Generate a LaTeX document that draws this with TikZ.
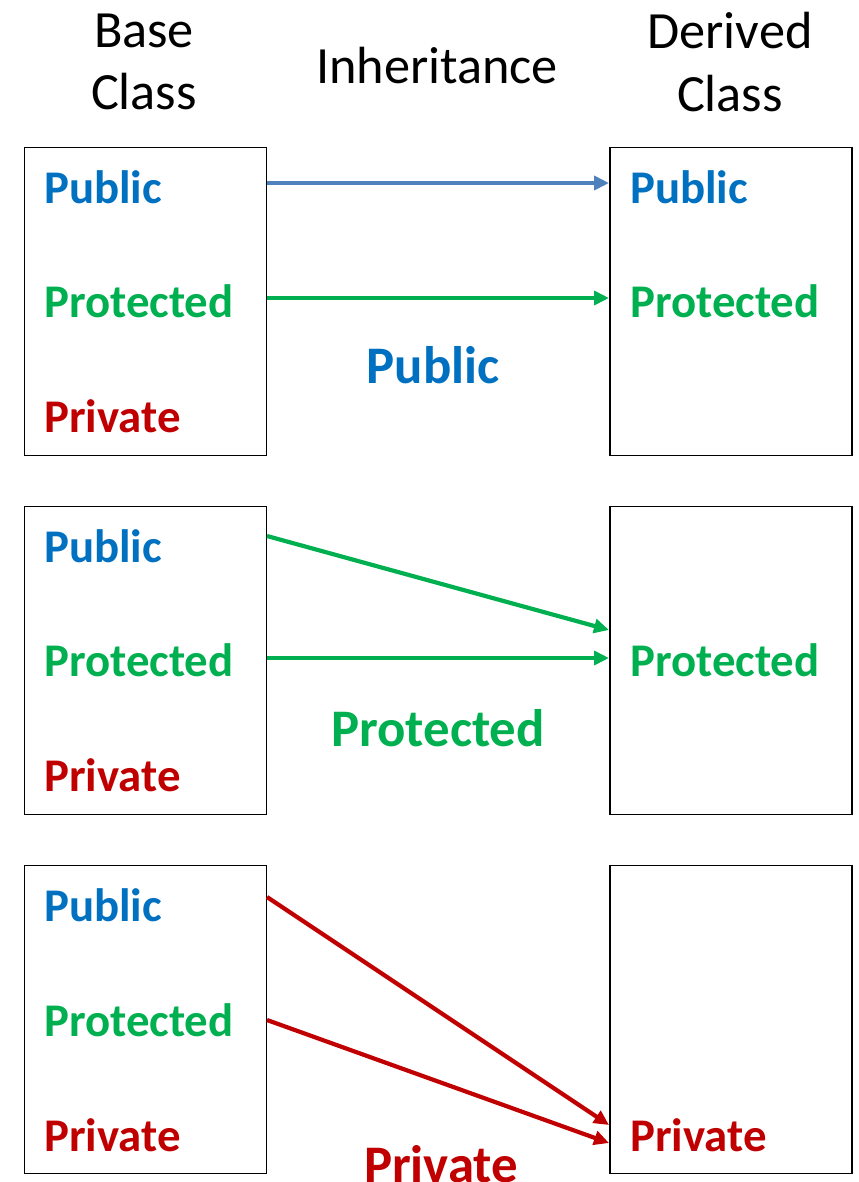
\documentclass[tikz,border=0pt]{standalone}
\usepackage{fontspec}
\setmainfont{Carlito}
\usepackage{xcolor}
\usetikzlibrary{arrows.meta, positioning, calc}
\definecolor{pubblue}{HTML}{0070C0}
\definecolor{probgreen}{HTML}{00B050}
\definecolor{privred}{HTML}{C00000}
\definecolor{arrblue}{HTML}{4F81BD}
\begin{document}
\begin{tikzpicture}[x=1bp,y=-1bp,
  cls/.style={draw, line width=1.5bp, minimum width=242bp, minimum height=308bp, inner sep=0pt},
  lbl/.style={anchor=west, inner sep=0pt, font=\fontsize{47}{56}\selectfont\bfseries},
  mode/.style={inner sep=0pt, font=\fontsize{53}{63}\selectfont\bfseries},
  head/.style={align=center, inner sep=0pt, font=\fontsize{52.5}{63}\selectfont},
  inh/.style={line width=4.2bp, -{Triangle[length=15bp,width=14bp]}}]
\useasboundingbox (0,0) rectangle (859,1182);

% Headings
\node[head] (hbase) at (144,62) {Base\\Class};
\node[head] (hinh) at (437,66) {Inheritance};
\node[head] (hder) at (730,62) {Derived\\Class};

% Public inheritance
\node[cls] (lb1) at (145.5,301.5) {};
\node[cls] (rb1) at (731,301.5) {};
\node[lbl, pubblue] (lpub1) at (44,187) {Public};
\node[lbl, probgreen] (lpro1) at (44,301) {Protected};
\node[lbl, privred] (lpri1) at (44,416) {Private};
\node[lbl, pubblue] (rpub1) at (630,187) {Public};
\node[lbl, probgreen] (rpro1) at (630,301) {Protected};
\node[mode, pubblue] (m1) at (433,365) {Public};
\coordinate (s1a) at (267,183);
\coordinate (e1a) at (609,183);
\coordinate (s1b) at (267,298);
\coordinate (e1b) at (609,298);
\draw[inh, arrblue] (s1a) -- (e1a);
\draw[inh, probgreen] (s1b) -- (e1b);

% Protected inheritance
\node[cls] (lb2) at (145.5,660.5) {};
\node[cls] (rb2) at (731,660.5) {};
\node[lbl, pubblue] (lpub2) at (44,546) {Public};
\node[lbl, probgreen] (lpro2) at (44,660) {Protected};
\node[lbl, privred] (lpri2) at (44,775) {Private};
\node[lbl, probgreen] (rpro2) at (630,660) {Protected};
\node[mode, probgreen] (m2) at (438,728) {Protected};
\coordinate (s2a) at (267,536);
\coordinate (e2a) at (609,630);
\coordinate (s2b) at (267,658);
\coordinate (e2b) at (609,658);
\draw[inh, probgreen] (s2a) -- (e2a);
\draw[inh, probgreen] (s2b) -- (e2b);

% Private inheritance
\node[cls] (lb3) at (145.5,1019.5) {};
\node[cls] (rb3) at (731,1019.5) {};
\node[lbl, pubblue] (lpub3) at (44,905) {Public};
\node[lbl, probgreen] (lpro3) at (44,1020) {Protected};
\node[lbl, privred] (lpri3) at (44,1135) {Private};
\node[lbl, privred] (rpri3) at (630,1135) {Private};
\node[mode, privred] (m3) at (441,1164) {Private};
\coordinate (s3a) at (267,897);
\coordinate (e3a) at (609,1125);
\coordinate (s3b) at (267,1020);
\coordinate (e3b) at (609,1143);
\draw[inh, privred] (s3a) -- (e3a);
\draw[inh, privred] (s3b) -- (e3b);
\end{tikzpicture}
\end{document}
